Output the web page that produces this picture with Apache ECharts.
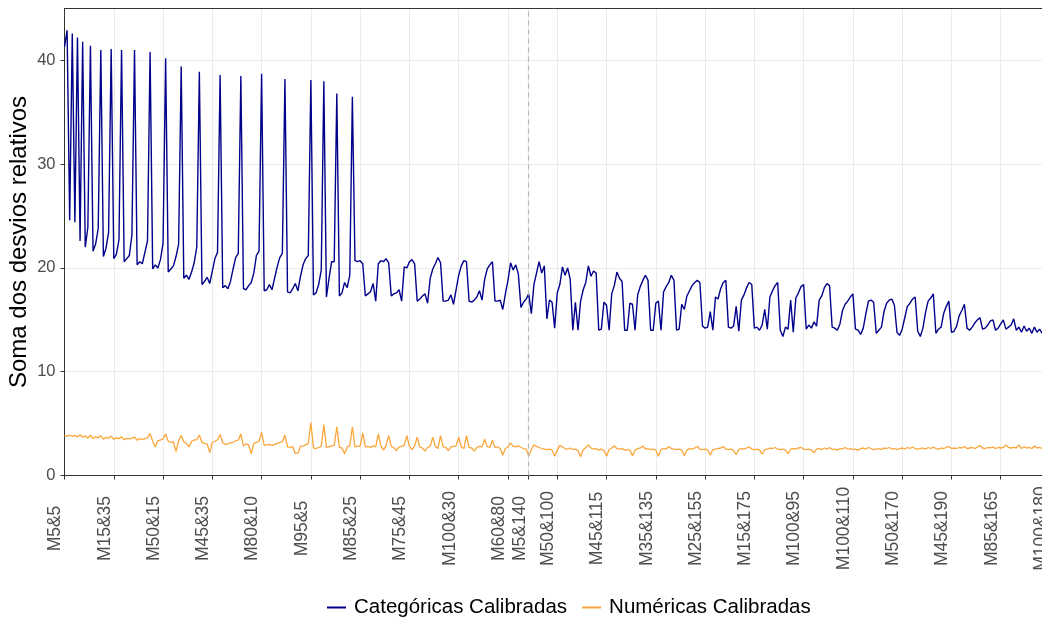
<!DOCTYPE html>
<html>
<head>
<meta charset="utf-8">
<script src="https://cdn.jsdelivr.net/npm/echarts@6/dist/echarts.min.js"></script>
<style>
html,body{margin:0;padding:0;background:#fff;}
#chart{width:1042px;height:619px;}
</style>
</head>
<body>
<div id="chart"></div>
<script>
// ---- data ----
const N_CATEGORIES = 381;
const tickLabels = ['M5&5','M15&35','M50&15','M45&35','M80&10','M95&5','M85&25','M75&45','M100&30','M60&80','M5&140','M50&100','M45&115','M35&135','M25&155','M15&175','M100&95','M100&110','M50&170','M45&190','M85&165','M100&180'];
const tickIndex = [0,19,38,57,76,95,114,133,152,171,179,190,209,228,247,266,285,304,323,342,361,380];
const markedCategory = 'M5&140';
const yTicks = [0,10,20,30,40];

const categoricas = [
41.3,42.9,24.6,42.6,24.4,42.2,22.6,41.8,22.0,23.9,
41.4,21.6,22.3,23.8,41.0,21.1,21.9,23.4,41.1,20.9,
21.3,22.7,41.0,20.6,20.9,21.2,23.2,41.0,20.3,20.6,
20.4,21.5,22.6,40.8,19.9,20.3,20.0,20.8,22.4,40.2,
19.6,19.9,20.2,21.1,22.3,39.4,19.0,19.3,18.9,19.6,
20.5,22.0,38.9,18.4,18.7,19.1,18.5,19.7,20.9,21.5,
38.6,18.1,18.3,18.0,18.7,19.9,21.0,21.4,38.5,18.0,
17.9,18.3,18.6,19.5,21.2,21.6,38.7,17.8,17.9,18.4,
17.9,19.0,20.1,21.0,21.4,38.2,17.7,17.6,18.0,18.5,
17.8,19.2,20.3,20.9,21.2,38.1,17.4,17.6,18.4,19.8,
38.0,17.2,19.0,20.6,20.6,36.8,17.3,17.6,18.6,18.1,
19.3,36.5,20.7,20.6,20.7,20.4,17.3,17.5,17.7,18.5,
16.8,20.4,20.7,20.6,20.9,20.5,17.3,17.5,17.6,17.9,
16.8,20.1,20.0,20.6,20.8,20.4,16.8,17.0,17.3,17.5,
16.6,19.0,19.9,20.4,21.0,20.5,16.8,16.8,16.9,17.4,
16.5,17.9,19.3,20.2,20.7,20.6,16.8,16.7,16.9,17.2,
17.8,16.9,18.9,19.9,20.3,20.6,16.8,16.8,16.9,16.0,
17.5,18.8,20.5,19.8,20.3,19.4,16.2,16.7,17.0,17.5,
15.6,18.4,19.5,20.6,19.5,20.2,15.1,16.9,16.7,14.2,
17.6,18.4,20.1,19.3,20.0,18.9,14.0,16.7,14.0,16.8,
17.9,18.6,20.2,19.2,19.7,19.5,14.0,14.1,16.7,16.4,
14.0,17.5,18.3,19.6,19.0,18.7,14.0,14.0,16.6,16.5,
14.0,17.4,18.2,18.8,19.3,18.8,14.0,14.0,16.6,16.8,
14.0,17.7,18.2,18.6,19.3,18.8,14.0,14.1,16.5,16.0,
17.3,17.8,18.3,18.6,18.8,18.6,14.4,14.2,14.3,15.8,
14.0,17.2,17.0,18.0,18.6,18.8,14.3,14.2,14.4,16.3,
13.9,16.9,17.4,18.1,18.6,18.4,14.2,14.3,14.0,14.5,
16.0,14.1,17.2,17.8,18.3,18.6,14.0,13.4,14.3,14.1,
16.9,13.8,17.1,17.6,18.2,18.4,14.1,14.5,14.2,14.8,
14.4,16.9,17.3,18.1,18.5,18.3,14.3,14.2,14.0,14.6,
15.9,16.5,16.8,17.2,17.5,14.1,14.0,13.6,14.2,15.6,
16.8,16.9,16.7,13.7,14.0,14.3,15.8,16.6,16.9,17.0,
16.4,13.8,13.5,14.1,15.2,16.3,16.6,17.0,17.2,13.9,
13.4,14.2,15.7,16.8,17.1,17.5,13.7,14.1,14.3,15.6,
16.3,16.8,13.8,13.9,14.4,15.4,15.9,16.5,14.2,14.0,
14.3,14.7,15.0,15.2,14.1,14.2,14.5,14.9,15.0,14.0,
14.2,14.6,15.0,14.1,14.3,14.5,15.1,14.0,14.3,13.8,
14.4,13.9,14.2,13.7,14.3,13.8,14.1,13.7
];

const numericas = [
3.85,3.80,3.90,3.78,3.86,3.72,3.92,3.70,3.82,3.60,
3.88,3.55,3.75,3.62,3.84,3.50,3.68,3.58,3.80,3.48,
3.62,3.55,3.72,3.45,3.58,3.52,3.60,3.70,3.40,3.55,
3.48,3.56,3.62,4.05,3.30,2.75,3.35,3.40,3.55,4.00,
3.30,3.20,3.25,2.30,3.35,3.85,3.25,3.10,2.75,3.30,
3.40,3.45,3.90,3.20,3.10,3.05,2.20,3.20,3.30,3.45,
3.95,3.15,3.00,3.05,3.15,3.20,3.35,3.40,4.02,2.85,
3.05,2.95,2.10,3.10,3.20,3.30,4.15,2.90,2.95,3.00,
2.90,3.00,3.10,3.20,3.25,3.90,2.75,2.70,2.80,2.10,
2.15,2.80,2.85,2.95,3.10,5.10,2.65,2.60,2.70,2.80,
4.90,2.70,2.75,2.85,2.90,4.70,2.70,2.65,2.10,2.75,
2.85,4.70,2.75,2.80,2.85,4.10,2.75,2.80,2.70,2.85,
2.75,4.00,2.85,2.45,2.90,3.85,2.80,2.70,2.40,2.75,
2.80,2.90,3.85,2.80,2.50,2.85,3.70,2.75,2.65,2.35,
2.70,2.80,3.70,2.80,2.60,3.85,2.75,2.70,2.40,2.75,
2.80,2.85,3.70,2.75,2.60,3.85,2.70,2.65,2.35,2.70,
2.80,2.75,3.50,2.80,2.70,3.40,2.70,2.75,2.60,1.95,
2.60,2.75,3.15,2.80,2.75,2.85,2.70,2.60,2.55,1.90,
2.50,2.95,2.80,2.70,2.60,2.55,2.50,2.55,2.45,1.85,
2.45,2.90,2.75,2.60,2.55,2.65,2.50,2.55,2.40,1.80,
2.45,2.70,2.95,2.65,2.55,2.60,2.45,2.55,2.40,1.85,
2.50,2.65,2.85,2.60,2.55,2.60,2.45,2.50,2.45,1.90,
2.45,2.60,2.65,2.85,2.55,2.60,2.50,2.55,2.45,1.85,
2.50,2.60,2.55,2.80,2.60,2.55,2.50,2.55,2.45,1.90,
2.45,2.60,2.55,2.65,2.80,2.55,2.50,2.55,2.45,1.95,
2.50,2.55,2.60,2.65,2.80,2.55,2.50,2.55,2.40,2.00,
2.50,2.60,2.55,2.65,2.75,2.55,2.50,2.55,2.45,2.05,
2.50,2.55,2.65,2.60,2.70,2.55,2.50,2.55,2.45,2.10,
2.55,2.60,2.55,2.65,2.70,2.55,2.50,2.55,2.45,2.20,
2.55,2.60,2.50,2.65,2.55,2.70,2.50,2.55,2.45,2.60,
2.55,2.70,2.55,2.60,2.50,2.55,2.45,2.60,2.65,2.55,
2.70,2.60,2.50,2.55,2.60,2.50,2.65,2.60,2.70,2.55,
2.60,2.50,2.60,2.65,2.55,2.70,2.60,2.75,2.60,2.55,
2.60,2.65,2.55,2.70,2.60,2.75,2.60,2.55,2.65,2.60,
2.70,2.80,2.60,2.65,2.60,2.70,2.65,2.80,2.60,2.65,
2.70,2.60,2.75,2.90,2.65,2.60,2.70,2.65,2.75,2.60,
2.70,2.65,2.70,2.95,2.70,2.65,2.70,2.65,2.95,2.60,
2.75,2.65,2.70,2.60,2.85,2.65,2.70,2.60
];

// ---- build categories from tick labels ----
const categories = [];
for (let i = 0; i < N_CATEGORIES; i++) categories.push('');
tickIndex.forEach((idx, k) => { categories[idx] = tickLabels[k]; });
const tickSet = new Set(tickIndex);
const isTick = (index) => tickSet.has(index);

const chart = echarts.init(document.getElementById('chart'), null, {renderer: 'canvas'});
const FONT = '"Liberation Sans", Arial, Helvetica, sans-serif';
const BORDER = {show: true, onZero: false, lineStyle: {color: '#333333', width: 1}};

chart.setOption({
  animation: false,
  backgroundColor: '#ffffff',
  textStyle: {fontFamily: FONT},
  grid: {
    left: 64.5, right: -8, top: 8.5, bottom: 143.5,
    containLabel: false, outerBoundsMode: 'none', show: false
  },
  legend: {
    left: 322, top: 592,
    icon: 'rect', itemWidth: 19, itemHeight: 2, itemGap: 15,
    textStyle: {fontFamily: FONT, fontSize: 20.5, color: '#000000', padding: [0, 0, 0, 3]},
    data: ['Categóricas Calibradas', 'Numéricas Calibradas']
  },
  xAxis: [
    {
      type: 'category',
      data: categories,
      boundaryGap: false,
      position: 'bottom',
      axisLine: BORDER,
      axisTick: {show: true, interval: isTick, length: 4, lineStyle: {color: '#333333', width: 1}},
      axisLabel: {
        show: true, interval: isTick, rotate: 90, align: 'center', verticalAlign: 'bottom',
        margin: 53, fontFamily: FONT, fontSize: 17.5, color: '#4D4D4D'
      },
      splitLine: {show: true, interval: isTick, lineStyle: {color: '#EBEBEB', width: 1}}
    },
    {
      type: 'category',
      data: categories,
      boundaryGap: false,
      position: 'top',
      axisLine: BORDER,
      axisTick: {show: false},
      axisLabel: {show: false},
      splitLine: {show: false}
    }
  ],
  yAxis: {
    type: 'value',
    min: 0, max: 45, interval: 5,
    name: 'Soma dos desvios relativos',
    nameLocation: 'middle', nameGap: 33, nameRotate: 90, nameMoveOverlap: false,
    nameTextStyle: {fontFamily: FONT, fontSize: 24, color: '#000000'},
    axisLine: BORDER,
    axisTick: {show: true, length: 4, customValues: yTicks, lineStyle: {color: '#333333', width: 1}},
    axisLabel: {
      show: true, customValues: yTicks, margin: 9, fontFamily: FONT, fontSize: 16.5, color: '#4D4D4D',
      formatter: (v) => (v % 10 === 0 && v <= 40 ? String(v) : '')
    },
    splitLine: {show: true, lineStyle: {color: '#EBEBEB', width: 1}}
  },
  series: [
    {
      name: 'Categóricas Calibradas',
      type: 'line',
      data: categoricas,
      showSymbol: false,
      symbol: 'none',
      lineStyle: {color: '#00008B', width: 1.4},
      itemStyle: {color: '#00008B'},
      markLine: {
        silent: true, symbol: 'none', label: {show: false},
        lineStyle: {color: '#B8B8B8', width: 1.2, type: [5, 4]},
        data: [{xAxis: markedCategory}]
      }
    },
    {
      name: 'Numéricas Calibradas',
      type: 'line',
      data: numericas,
      showSymbol: false,
      symbol: 'none',
      lineStyle: {color: '#FBA63A', width: 1.3},
      itemStyle: {color: '#FBA63A'}
    }
  ]
});
</script>
</body>
</html>
